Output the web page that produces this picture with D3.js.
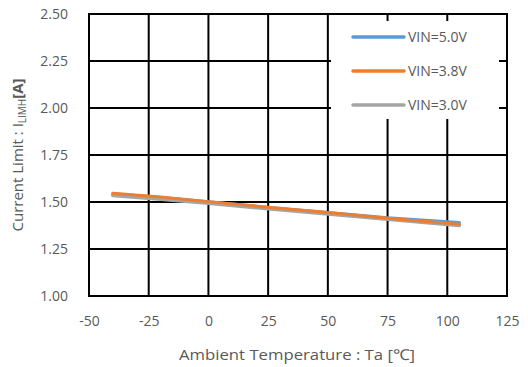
<!DOCTYPE html>
<html><head><meta charset="utf-8">
<script src="https://cdn.jsdelivr.net/npm/d3@7"></script>
<style>
html,body{margin:0;padding:0;background:#fff;}
text{font-family:"Open Sans","Noto Sans",sans-serif;fill:#595959;}
</style></head>
<body><svg id="c" width="528" height="367"></svg>
<script>
const temps = [-40, -20, 0, 25, 50, 75, 105];
const vin50 = [1.542, 1.522, 1.500, 1.470, 1.443, 1.415, 1.390];
const vin38 = [1.547, 1.526, 1.502, 1.472, 1.444, 1.414, 1.382];
const vin30 = [1.536, 1.516, 1.494, 1.465, 1.437, 1.409, 1.376];
const seriesNames = ["VIN=5.0V", "VIN=3.8V", "VIN=3.0V"];
const seriesColors = ["#5b9bd5", "#ed7d31", "#a5a5a5"];
const xTicks = [-50, -25, 0, 25, 50, 75, 100, 125];
const yTicks = [1.00, 1.25, 1.50, 1.75, 2.00, 2.25, 2.50];

const svg = d3.select("#c");
const L = 89, R = 507, T = 14, B = 296;
const x = d3.scaleLinear().domain([-50, 125]).range([L, R]);
const y = d3.scaleLinear().domain([1.0, 2.5]).range([B, T]);

// grid
const g = svg.append("g");
g.selectAll(".vg").data(xTicks).join("line")
  .attr("x1", d => x(d)).attr("x2", d => x(d)).attr("y1", T).attr("y2", B)
  .attr("stroke", "#000").attr("stroke-width", 2);
g.selectAll(".hg").data(yTicks).join("line")
  .attr("x1", L).attr("x2", R).attr("y1", d => y(d)).attr("y2", d => y(d))
  .attr("stroke", "#000").attr("stroke-width", 2);
svg.append("rect").attr("x", L).attr("y", T).attr("width", R - L).attr("height", B - T)
  .attr("fill", "none").attr("stroke", "#000").attr("stroke-width", 2);

// axes labels via d3 axes
const xAxis = svg.append("g").attr("transform", `translate(0,${B + 17})`)
  .call(d3.axisBottom(x).tickValues(xTicks).tickSize(0).tickFormat(d => String(d)));
xAxis.select(".domain").remove();
xAxis.selectAll("text").style("font-size", "14px").attr("fill", "#595959");

const yAxis = svg.append("g").attr("transform", `translate(${L - 18},0)`)
  .call(d3.axisLeft(y).tickValues(yTicks).tickSize(0).tickFormat(d3.format(".2f")));
yAxis.select(".domain").remove();
yAxis.selectAll("text").style("font-size", "14px").attr("fill", "#595959");

// lines
const line = d3.line().x((d, i) => x(temps[i])).y(d => y(d));
const data = [vin50, vin30, vin38];
const cols = [seriesColors[0], seriesColors[2], seriesColors[1]];
const widths = [3.5, 4, 3];
data.forEach((s, k) => {
  svg.append("path").datum(s).attr("d", line).attr("fill", "none")
    .attr("stroke", cols[k]).attr("stroke-width", widths[k]).attr("stroke-linecap", "round");
});

// legend
svg.append("rect").attr("x", 331).attr("y", 21).attr("width", 168).attr("height", 98).attr("fill", "#fff");
const lg = svg.append("g");
seriesNames.forEach((n, i) => {
  const yy = 37 + i * 34;
  lg.append("line").attr("x1", 353).attr("x2", 404).attr("y1", yy).attr("y2", yy)
    .attr("stroke", seriesColors[i]).attr("stroke-width", 3.5).attr("stroke-linecap", "round");
  lg.append("text").attr("x", 408).attr("y", yy + 5).text(n).style("font-size", "14px");
});

// axis titles
svg.append("text").attr("x", 297).attr("y", 360).attr("text-anchor", "middle")
  .style("font-size", "15px").attr("textLength", 236).attr("lengthAdjust", "spacingAndGlyphs")
  .text("Ambient Temperature : Ta [℃]");
const yt = svg.append("text").attr("transform", "translate(23,155) rotate(-90)")
  .attr("text-anchor", "middle").style("font-size", "15px");
yt.append("tspan").text("Current Limit : I");
yt.append("tspan").attr("dy", 3).style("font-size", "10px").text("LIMH");
yt.append("tspan").attr("dy", -3).style("font-weight", "bold").text("[A]");
</script></body></html>
